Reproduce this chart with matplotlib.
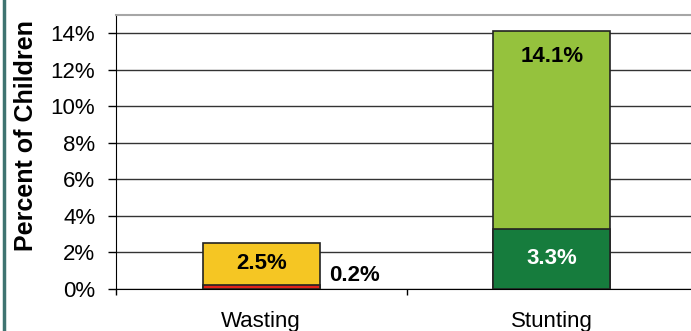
import numpy as np
import matplotlib
matplotlib.use("Agg")
import matplotlib.pyplot as plt
from matplotlib.lines import Line2D
from matplotlib.ticker import PercentFormatter

FONT = "Liberation Sans"
matplotlib.rcParams['font.family'] = [FONT, 'DejaVu Sans']

categories = ["Wasting", "Stunting"]
total_pct = [2.5, 14.1]       # all wasting / all stunting
severe_pct = [0.2, 3.3]       # severe wasting / severe stunting
total_colors = ["#F5C623", "#95C23D"]
severe_colors = ["#E2231A", "#167C3D"]
yticks = np.arange(0, 15, 2)

W, H = 691, 331
ax_w = 697 - 116
ax_h = 289 - 14.7
fig = plt.figure(figsize=(W / 100, H / 100), dpi=100)
ax = fig.add_axes([116 / W, 42 / H, ax_w / W, ax_h / H])

x = np.arange(len(categories))
bw = 0.403
ax.bar(x, total_pct, bw, color=total_colors, edgecolor="#222222", linewidth=1.2, zorder=3)
ax.bar(x, severe_pct, bw, color=severe_colors, edgecolor="#222222", linewidth=1.2, zorder=4)

# value labels
ax.text(x[0], 1.42, f"{total_pct[0]}%", ha="center", va="center",
        fontsize=16, fontweight="bold", color="black", zorder=5)
ax.text(x[0] + 0.32, severe_pct[0] + 0.55, f"{severe_pct[0]}%", ha="center", va="center",
        fontsize=16, fontweight="bold", color="black", zorder=5)
ax.text(x[1], total_pct[1] * 0.9, f"{total_pct[1]}%", ha="center", va="center",
        fontsize=16, fontweight="bold", color="black", zorder=5)
ax.text(x[1], severe_pct[1] / 2, f"{severe_pct[1]}%", ha="center", va="center",
        fontsize=16, fontweight="bold", color="white", zorder=5)

ax.set_xlim(-0.5, 1.5)
ax.set_ylim(0, 15)
ax.set_yticks(yticks)
ax.yaxis.set_major_formatter(PercentFormatter(decimals=0))
ax.yaxis.grid(True, color="#333333", linewidth=1.0, zorder=0)
ax.set_axisbelow(True)

# category ticks sit between the bars, names under the bars
ax.set_xticks([-0.5, 0.5, 1.5])
ax.set_xticklabels([])
ax.set_xticks(x, minor=True)
ax.set_xticklabels(categories, minor=True)
ax.tick_params(axis="x", which="major", direction="out", length=4, width=1, color="black")
ax.tick_params(axis="x", which="minor", length=0, pad=16, labelsize=16)
ax.tick_params(axis="y", direction="out", length=6, width=1, pad=9, labelsize=16)

for lab in ax.get_yticklabels() + ax.get_xticklabels(minor=True):
    lab.set_fontfamily(FONT)

ax.spines["top"].set_color("#A6A6A6")
ax.spines["top"].set_linewidth(1.5)
ax.spines["right"].set_visible(False)
ax.spines["left"].set_color("black")
ax.spines["bottom"].set_color("black")

ax.set_ylabel("Percent of Children", fontsize=18, fontweight="bold")
ax.yaxis.set_label_coords((38 - 116) / ax_w, (289 - 136) / ax_h)

# frame line down the left edge
fig.add_artist(Line2D([4 / W, 4 / W], [0, 1], color="#3F7471", linewidth=2.5,
                      transform=fig.transFigure))

fig.savefig("out.png", dpi=100)
